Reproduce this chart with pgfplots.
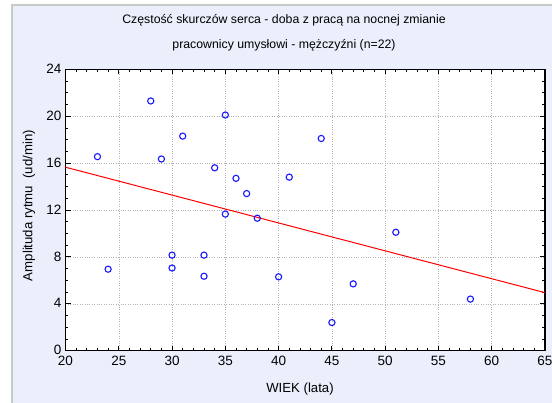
\documentclass[border=0pt]{standalone}
\usepackage{fontspec}
\setmainfont{Liberation Sans}
\usepackage{pgfplots}
\pgfplotsset{compat=1.18}
\definecolor{panel}{RGB}{235,239,252}
\definecolor{frameedge}{RGB}{200,200,200}
\definecolor{ptblue}{RGB}{25,25,255}

\begin{document}
\begin{tikzpicture}[x=1pt,y=1pt]
\useasboundingbox (0,0) rectangle (552,403);
\fill[white] (0,0) rectangle (552,403);
\fill[panel] (12,0) rectangle (552,398);
\draw[frameedge, line width=2pt] (12,0) -- (12,398) -- (552,398);

% title
\node[font=\fontsize{12.3}{14}\selectfont] at (284,382.3) {Częstość skurczów serca - doba z pracą na nocnej zmianie};
\node[font=\fontsize{12.3}{14}\selectfont] at (284,358) {pracownicy umysłowi - mężczyźni (n=22)};
% axis labels
\node[font=\fontsize{13.2}{15}\selectfont] at (300,13.5) {WIEK (lata)};
\node[font=\fontsize{13.2}{15}\selectfont, rotate=90] at (29,197.5) {Amplituda rytmu\hspace{0.55em}(ud/min)};

\begin{axis}[
  at={(65.5pt,52.3pt)}, anchor=south west,
  scale only axis, width=479.5pt, height=281.4pt,
  xmin=20, xmax=65, ymin=0, ymax=24,
  xtick={20,25,...,65}, ytick={0,4,...,24},
  minor x tick num=4, minor y tick num=3,
  tick align=inside,
  major tick length=5pt, minor tick length=3pt,
  tick style={black, line width=0.8pt},
  grid=major,
  major grid style={dotted, black!30, line width=0.5pt},
  axis line style={line width=1.3pt},
  axis background/.style={fill=white},
  ticklabel style={font=\fontsize{13.5}{15}\selectfont},
  xticklabel style={yshift=-2pt},
  yticklabel style={xshift=-0.5pt, yshift=0.5pt},
  /pgf/number format/assume math mode=true,
  clip=false,
]
% age vs rhythm amplitude, one circle per subject
\addplot[only marks, mark=o, mark size=3.1pt, ptblue, line width=1.1pt] coordinates {
  (23,16.55) (24,6.95) (28,21.3) (29,16.35) (30,8.15) (30,7.05)
  (31,18.3) (33,8.15) (33,6.35) (34,15.6) (35,20.1) (35,11.65)
  (36,14.7) (37,13.4) (38,11.3) (40,6.3) (41,14.8) (44,18.1)
  (45,2.4) (47,5.7) (51,10.1) (58,4.4)
};
% fitted linear trend
\addplot[red, line width=1pt] coordinates {(20,15.65) (65,4.95)};
\end{axis}
\end{tikzpicture}
\end{document}
